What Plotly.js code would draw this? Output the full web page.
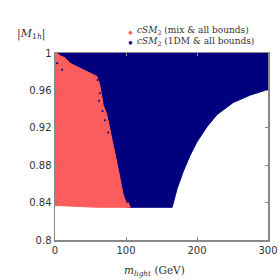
<!DOCTYPE html>
<html>
<head>
<meta charset="utf-8">
<script src="https://cdn.plot.ly/plotly-3.0.1.min.js"></script>
<style>html,body{margin:0;padding:0;background:#fff;}#chart{width:280px;height:280px;}</style>
</head>
<body>
<div id="chart"></div>
<script>
// Boundary of the 1DM region (blue)
var blueX = [2, 300, 300, 275, 251, 228, 214, 200, 190, 181, 172, 167, 165, 100, 80, 60, 20];
var blueY = [1.0, 1.0, 0.961, 0.955, 0.947, 0.934, 0.921, 0.905, 0.89, 0.874, 0.855, 0.842, 0.835, 0.835, 0.9, 0.97, 0.99];
// Boundary of the mix region (red)
var redX = [0, 3, 7, 14, 21, 35, 49, 59, 63, 66, 68, 73, 77, 80, 84.5, 90, 95.5, 101, 103, 106, 60, 0];
var redY = [1.0, 1.0, 0.997, 0.995, 0.989, 0.984, 0.979, 0.975, 0.966, 0.955, 0.944, 0.934, 0.92, 0.909, 0.893, 0.872, 0.85, 0.838, 0.84, 0.835, 0.835, 0.837];
// Scattered blue points inside the red region near its edge
var dotX = [3, 10, 60, 63, 62, 67, 70, 75];
var dotY = [0.989, 0.982, 0.971, 0.957, 0.949, 0.938, 0.928, 0.915];
var xTicks = [0, 100, 200, 300];
var yTicks = [0.8, 0.84, 0.88, 0.92, 0.96, 1];
var yTickText = ['0.8', '0.84', '0.88', '0.92', '0.96', '1'];
var seriesNames = ['<i>cSM</i><sub>2</sub> (mix &amp; all bounds)', '<i>cSM</i><sub>2</sub> (1DM &amp; all bounds)'];
var seriesColors = ['#fc5c5c', '#00007f'];

var traces = [
  {x: blueX, y: blueY, mode: 'lines', fill: 'toself', fillcolor: seriesColors[1], line: {color: seriesColors[1], width: 1}, showlegend: false, hoverinfo: 'skip'},
  {x: redX, y: redY, mode: 'lines', fill: 'toself', fillcolor: seriesColors[0], line: {color: seriesColors[0], width: 1}, showlegend: false, hoverinfo: 'skip'},
  {x: dotX, y: dotY, mode: 'markers', marker: {color: seriesColors[1], size: 2}, showlegend: false, hoverinfo: 'skip'}
];

var serif = 'DejaVu Serif, Liberation Serif, serif';
var layout = {
  width: 280, height: 280,
  margin: {l: 55, r: 12, t: 53, b: 40},
  paper_bgcolor: '#fff', plot_bgcolor: '#fff',
  showlegend: false,
  xaxis: {range: [0, 300], tickvals: xTicks, ticks: 'inside', ticklen: 3, tickcolor: '#888',
          showline: true, linecolor: '#888', linewidth: 1.5, mirror: 'allticks', showgrid: false, zeroline: false,
          tickfont: {family: 'DejaVu Sans, sans-serif', size: 10, color: '#333'}},
  yaxis: {range: [0.8, 1], tickvals: yTicks, ticktext: yTickText, ticks: 'inside', ticklen: 3, tickcolor: '#888',
          showline: true, linecolor: '#888', linewidth: 1.5, mirror: 'allticks', showgrid: false, zeroline: false,
          tickfont: {family: 'DejaVu Sans, sans-serif', size: 10, color: '#333'}},
  annotations: [
    {xref: 'paper', yref: 'paper', x: 0.465, y: -0.165, xanchor: 'center', yanchor: 'middle', showarrow: false,
     text: '<i>m</i><sub><i>light</i></sub> (GeV)', font: {family: serif, size: 10.5, color: '#333'}},
    {xref: 'paper', yref: 'paper', x: -0.19, y: 1.1, xanchor: 'left', yanchor: 'middle', showarrow: false,
     text: '|<i>M</i><sub>1<i>h</i></sub>|', font: {family: serif, size: 11, color: '#333'}},
    {xref: 'paper', yref: 'paper', x: 0.355, y: 1.115, xanchor: 'center', yanchor: 'middle', showarrow: false,
     text: '●', font: {size: 8, color: seriesColors[0]}},
    {xref: 'paper', yref: 'paper', x: 0.355, y: 1.064, xanchor: 'center', yanchor: 'middle', showarrow: false,
     text: '●', font: {size: 8, color: seriesColors[1]}},
    {xref: 'paper', yref: 'paper', x: 0.375, y: 1.118, xanchor: 'left', yanchor: 'middle', showarrow: false,
     text: seriesNames[0], font: {family: serif, size: 9, color: '#333'}},
    {xref: 'paper', yref: 'paper', x: 0.375, y: 1.061, xanchor: 'left', yanchor: 'middle', showarrow: false,
     text: seriesNames[1], font: {family: serif, size: 9, color: '#333'}}
  ]
};
Plotly.newPlot('chart', traces, layout, {staticPlot: true, displayModeBar: false});
</script>
</body>
</html>
